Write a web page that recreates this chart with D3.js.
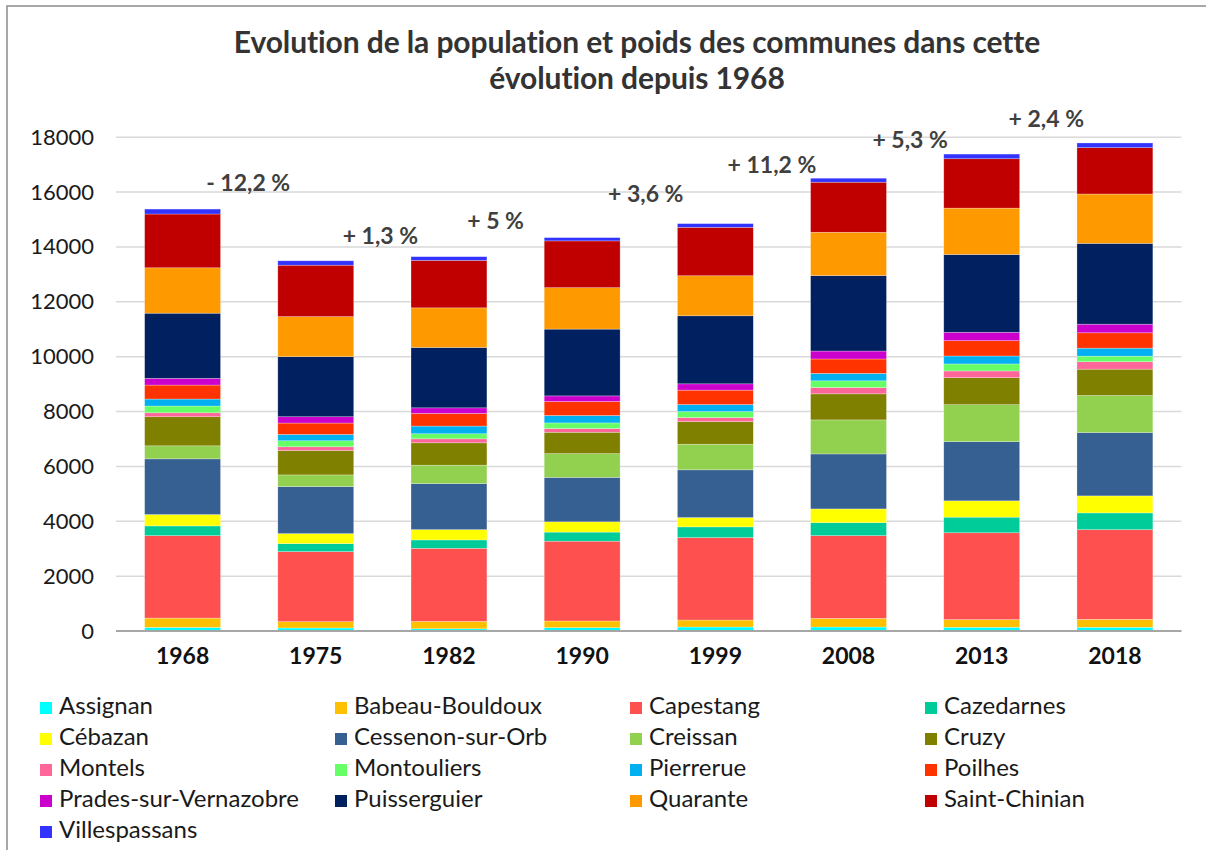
<!DOCTYPE html>
<html>
<head>
<meta charset="utf-8">
<script src="https://cdn.jsdelivr.net/npm/d3@7"></script>
<style>
  body { margin: 0; background: #fff; }
  text { font-family: Lato, "Open Sans", sans-serif; }
</style>
</head>
<body>
<div id="chart"></div>
<script>
const years = ['1968', '1975', '1982', '1990', '1999', '2008', '2013', '2018'];

const communes = [
  'Assignan', 'Babeau-Bouldoux', 'Capestang', 'Cazedarnes', 'Cébazan',
  'Cessenon-sur-Orb', 'Creissan', 'Cruzy', 'Montels', 'Montouliers',
  'Pierrerue', 'Poilhes', 'Prades-sur-Vernazobre', 'Puisserguier',
  'Quarante', 'Saint-Chinian', 'Villespassans'
];

const assignan = [130, 110, 80, 120, 145, 145, 135, 135];
const babeauBouldoux = [340, 230, 270, 245, 255, 315, 280, 290];
const capestang = [3005, 2555, 2665, 2910, 3005, 3015, 3165, 3270];
const cazedarnes = [355, 290, 305, 330, 390, 475, 570, 610];
const cebazan = [415, 365, 375, 375, 340, 500, 595, 620];
const cessenon = [2030, 1715, 1680, 1620, 1740, 2005, 2155, 2310];
const creissan = [475, 425, 670, 865, 935, 1240, 1350, 1350];
const cruzy = [1060, 890, 815, 780, 825, 950, 985, 960];
const montels = [145, 135, 145, 135, 145, 230, 245, 270];
const montouliers = [245, 220, 185, 205, 220, 245, 255, 205];
const pierrerue = [255, 230, 280, 270, 255, 270, 290, 290];
const poilhes = [510, 415, 460, 510, 525, 525, 560, 560];
const prades = [245, 230, 205, 205, 230, 290, 305, 315];
const puisserguier = [2375, 2190, 2200, 2435, 2480, 2750, 2835, 2945];
const quarante = [1655, 1460, 1445, 1510, 1460, 1580, 1690, 1800];
const saintChinian = [1960, 1875, 1730, 1705, 1765, 1825, 1800, 1690];
const villespassans = [180, 160, 135, 120, 135, 145, 170, 170];

const series = [
  assignan, babeauBouldoux, capestang, cazedarnes, cebazan, cessenon,
  creissan, cruzy, montels, montouliers, pierrerue, poilhes, prades,
  puisserguier, quarante, saintChinian, villespassans
];

const colors = [
  '#00ffff', '#ffc000', '#ff5050', '#00cc99', '#ffff00', '#376092',
  '#92d050', '#808000', '#ff6699', '#66ff66', '#00b0f0', '#ff3300',
  '#cc00cc', '#002060', '#ff9900', '#c00000', '#3333ff'
];

const yTicks = [0, 2000, 4000, 6000, 8000, 10000, 12000, 14000, 16000, 18000];

// growth between consecutive censuses, label and the value where it sits
const changeLabels = ['- 12,2 %', '+ 1,3 %', '+ 5 %', '+ 3,6 %', '+ 11,2 %', '+ 5,3 %', '+ 2,4 %'];
const changeLabelAt = [16050, 14110, 14655, 15640, 16700, 17600, 18385];
const changeNudge = [-1, -2, -20, -3, -10, -5, -2];

const width = 1206;
const height = 850;
const plot = { left: 116, right: 1181.5, top: 137.2, bottom: 631 };

const svg = d3
  .select('#chart')
  .append('svg')
  .attr('width', width)
  .attr('height', height);

svg
  .append('rect')
  .attr('x', 7)
  .attr('y', 6)
  .attr('width', width + 10)
  .attr('height', height + 10)
  .attr('fill', '#fff')
  .attr('stroke', '#8c8c8c')
  .attr('stroke-width', 1.5);

const rows = years.map((year, i) => {
  const row = { year };
  communes.forEach((c, k) => (row[c] = series[k][i]));
  return row;
});

const stacked = d3.stack().keys(communes)(rows);
const color = d3.scaleOrdinal().domain(communes).range(colors);

const xScale = d3
  .scaleBand()
  .domain(years)
  .range([plot.left, plot.right])
  .paddingInner(0.43)
  .paddingOuter(0.215);

const yScale = d3
  .scaleLinear()
  .domain([0, 18000])
  .range([plot.bottom, plot.top]);

// gridlines
svg
  .append('g')
  .selectAll('line')
  .data(yTicks.slice(1))
  .enter()
  .append('line')
  .attr('x1', plot.left)
  .attr('x2', plot.right)
  .attr('y1', (d) => yScale(d))
  .attr('y2', (d) => yScale(d))
  .attr('stroke', '#d9d9d9')
  .attr('stroke-width', 1.5);

// y axis labels
const yAxis = svg
  .append('g')
  .attr('transform', `translate(${plot.left},0)`)
  .call(d3.axisLeft(yScale).tickValues(yTicks).tickSize(0).tickPadding(22).tickFormat(d3.format('d')));
yAxis.select('.domain').remove();
yAxis
  .selectAll('text')
  .style('font-family', 'Lato, sans-serif')
  .style('font-size', '22px')
  .attr('fill', '#1a1a1a');

// stacked bars
svg
  .append('g')
  .selectAll('g')
  .data(stacked)
  .enter()
  .append('g')
  .attr('fill', (d) => color(d.key))
  .selectAll('rect')
  .data((d) => d)
  .enter()
  .append('rect')
  .attr('x', (d) => xScale(d.data.year))
  .attr('y', (d) => yScale(d[1]))
  .attr('width', xScale.bandwidth())
  .attr('height', (d) => yScale(d[0]) - yScale(d[1]))
  .attr('stroke', 'rgba(255,255,255,0.45)')
  .attr('stroke-width', 0.6);

// x axis
const xAxis = svg
  .append('g')
  .attr('transform', `translate(0,${plot.bottom})`)
  .call(d3.axisBottom(xScale).tickSize(0).tickPadding(17));
xAxis.select('.domain').attr('stroke', '#a6a6a6').attr('stroke-width', 2)
  .attr('d', `M${plot.left},0H${plot.right}`);
xAxis
  .selectAll('text')
  .style('font-family', 'Lato, sans-serif')
  .style('font-size', '23px')
  .style('font-weight', 'bold')
  .attr('fill', '#111');

// growth labels between bars
svg
  .append('g')
  .selectAll('text')
  .data(changeLabels)
  .enter()
  .append('text')
  .attr('x', (d, i) =>
    (xScale(years[i]) + xScale(years[i + 1]) + xScale.bandwidth()) / 2 + changeNudge[i])
  .attr('y', (d, i) => yScale(changeLabelAt[i]))
  .attr('text-anchor', 'middle')
  .style('font-size', '23px')
  .style('font-weight', 'bold')
  .attr('fill', '#404040')
  .text((d) => d);

// title
const title = svg
  .append('text')
  .attr('x', 637)
  .attr('y', 53)
  .attr('text-anchor', 'middle')
  .style('font-size', '30px')
  .style('font-weight', 'bold')
  .style('letter-spacing', '-0.1px')
  .attr('fill', '#333');
title.append('tspan').attr('x', 637).text('Evolution de la population et poids des communes dans cette');
title.append('tspan').attr('x', 637).attr('dy', 36).text('évolution depuis 1968');

// legend, 4 columns
const legend = svg
  .append('g')
  .selectAll('.legend')
  .data(communes)
  .enter()
  .append('g')
  .attr('class', 'legend')
  .attr('transform', (d, i) => `translate(${40 + (i % 4) * 295},${702 + Math.floor(i / 4) * 31})`);

legend
  .append('rect')
  .attr('width', 12)
  .attr('height', 12)
  .attr('fill', (d) => color(d));

legend
  .append('text')
  .attr('x', 19)
  .attr('y', 12)
  .style('font-size', '24px')
  .attr('fill', '#1a1a1a')
  .text((d) => d);
</script>
</body>
</html>
